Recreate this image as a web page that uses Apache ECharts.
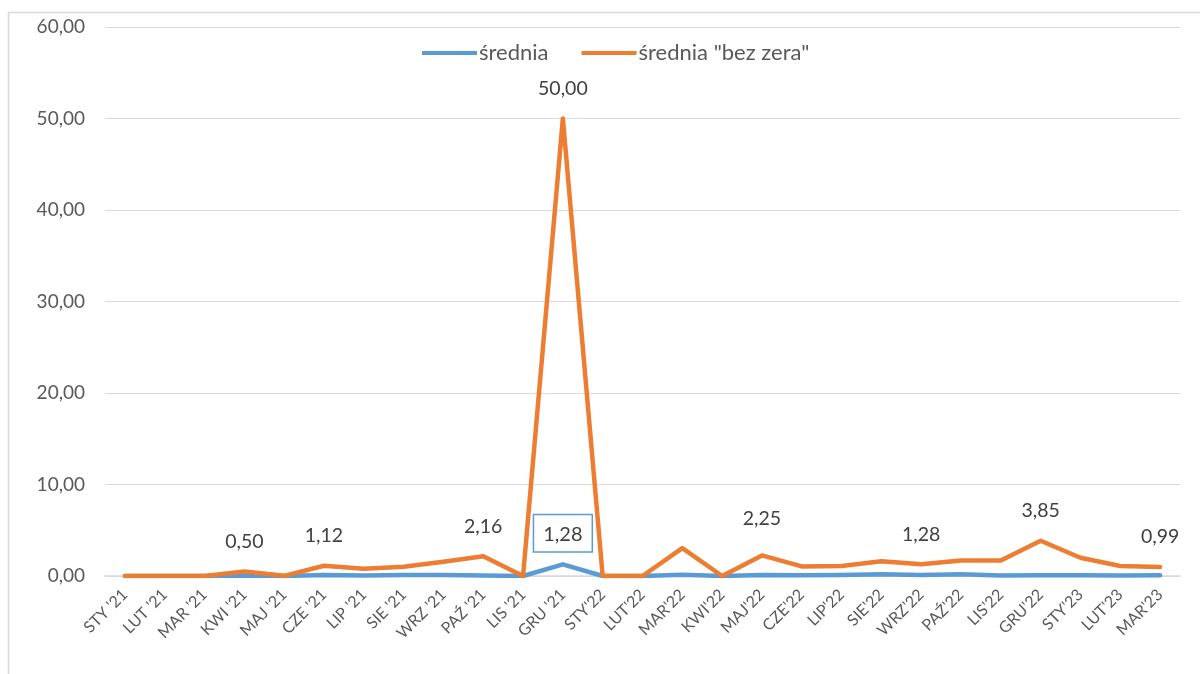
<!DOCTYPE html>
<html>
<head>
<meta charset="utf-8">
<script src="https://cdn.jsdelivr.net/npm/echarts@6/dist/echarts.min.js"></script>
<style>html,body{margin:0;padding:0;background:#fff}#c{width:1200px;height:674px}</style>
</head>
<body>
<div id="c"></div>
<script>
var categories = ["STY '21","LUT '21","MAR '21","KWI '21","MAJ '21","CZE '21","LIP '21","SIE '21","WRZ '21","PAŹ '21","LIS '21","GRU '21","STY'22","LUT'22","MAR'22","KWI'22","MAJ'22","CZE'22","LIP'22","SIE'22","WRZ'22","PAŹ'22","LIS'22","GRU'22","STY'23","LUT'23","MAR'23"];
var sredniaVals = [0,0,0,0.05,0,0.1,0.05,0.12,0.1,0.05,0,1.28,0,0,0.15,0,0.12,0.08,0.12,0.18,0.1,0.18,0.05,0.08,0.08,0.05,0.08];
var bezZeraVals = [0,0,0,0.50,0.02,1.12,0.8,1.0,1.55,2.16,0,50.00,0,0,3.05,0,2.25,1.05,1.1,1.6,1.28,1.7,1.7,3.85,2.0,1.1,0.99];
var sredniaLabeled = [11];
var bezZeraLabeled = [3,5,9,11,16,20,23,26];
var yTicks = [0,10,20,30,40,50,60];

var FONT = 'Lato, "Liberation Sans", sans-serif';
function fmt(v){ return Number(v).toFixed(2).replace('.', ','); }

var blueData = sredniaVals.map(function(v,i){
  if (sredniaLabeled.indexOf(i) >= 0) {
    return {value: v, label: {show: true, position: 'top', distance: 13,
      fontSize: 20, color: '#404040', fontFamily: FONT, borderColor: '#5B9BD5', borderWidth: 1.5,
      padding: [9, 9, 7, 9], backgroundColor: '#fff'}};
  }
  return v;
});
var orangeData = bezZeraVals.map(function(v,i){
  if (bezZeraLabeled.indexOf(i) >= 0) {
    var extra = (i === 16) ? 7 : 0;
    return {value: v, label: {show: true, position: 'top', distance: 20 + extra,
      fontSize: 19.5, color: '#404040', fontFamily: FONT}};
  }
  return v;
});

var chart = echarts.init(document.getElementById('c'), null, {renderer: 'canvas'});
chart.setOption({
  animation: false,
  backgroundColor: '#fff',
  graphic: [{type: 'rect', shape: {x: 8.5, y: 12.5, width: 1300, height: 800}, style: {fill: 'none', stroke: '#d9d9d9', lineWidth: 1.5}, silent: true, z: -1}],
  grid: {left: 105, right: 20, top: 27, bottom: 98, containLabel: false},
  legend: {
    top: 37, left: 417, itemWidth: 55, itemHeight: 4, itemGap: 33, icon: 'rect',
    textStyle: {fontSize: 22, color: '#595959', fontFamily: FONT, padding: [0,0,0,-3]},
    data: ['średnia', 'średnia "bez zera"']
  },
  xAxis: {
    type: 'category', data: categories, boundaryGap: true,
    axisLine: {lineStyle: {color: '#d9d9d9', width: 1.5}},
    axisTick: {show: false},
    axisLabel: {rotate: 45, interval: 0, fontSize: 16, color: '#595959', fontFamily: FONT, margin: 16}
  },
  yAxis: {
    type: 'value', min: yTicks[0], max: yTicks[yTicks.length-1], interval: 10,
    axisLine: {show: false}, axisTick: {show: false},
    splitLine: {lineStyle: {color: '#d9d9d9', width: 1.2}},
    axisLabel: {fontSize: 19, color: '#595959', fontFamily: FONT, margin: 20, formatter: function(v){return fmt(v);}}
  },
  series: [
    {name: 'średnia', type: 'line', data: blueData, symbol: 'circle', symbolSize: 0, showSymbol: true,
     label: {show: false, formatter: function(p){return fmt(p.value);}},
     lineStyle: {color: '#5B9BD5', width: 4.5, cap: 'round', join: 'round'}, itemStyle: {color: '#5B9BD5'}, z: 2},
    {name: 'średnia "bez zera"', type: 'line', data: orangeData, symbol: 'circle', symbolSize: 0, showSymbol: true,
     label: {show: false, formatter: function(p){return fmt(p.value);}},
     lineStyle: {color: '#ED7D31', width: 4.5, cap: 'round', join: 'round'}, itemStyle: {color: '#ED7D31'}, z: 3}
  ]
});
</script>
</body>
</html>
